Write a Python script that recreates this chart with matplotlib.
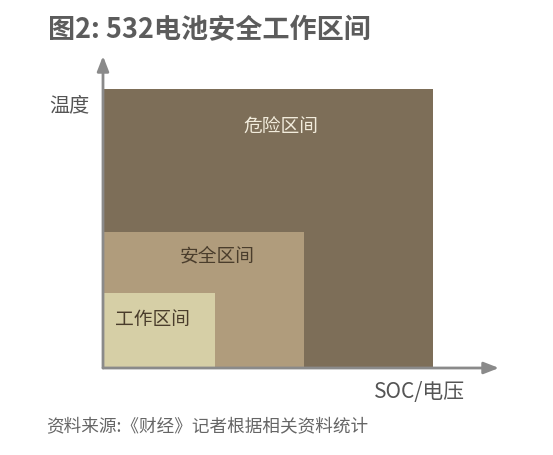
import matplotlib.pyplot as plt
from matplotlib.patches import Rectangle

plt.rcParams['font.family'] = ['Noto Sans CJK SC', 'DejaVu Sans']

# nested zones: (label, width along SOC, height along temperature)
zone_labels = ['危险区间', '安全区间', '工作区间']
zone_soc = [10.0, 6.1, 3.4]
zone_temp = [10.0, 4.9, 2.7]
zone_colors = ['#7d6e58', '#b09c7c', '#d6cfa6']
label_colors = ['#f2ecdc', '#4a3d2c', '#4a3d2c']
label_x = [5.38, 3.47, 1.51]
label_y = [8.67, 4.05, 1.79]

title = '图2: 532电池安全工作区间'
x_label = 'SOC/电压'
y_label = '温度'
source = '资料来源:《财经》记者根据相关资料统计'

W, H = 553, 456
fig = plt.figure(figsize=(W / 100, H / 100), dpi=100)
fig.patch.set_facecolor('white')

left, bottom, right, top = 103, 369, 499, 57
ax = fig.add_axes([left / W, (H - bottom) / H, (right - left) / W, (bottom - top) / H])
ax.set_xlim(0, 12.0)
ax.set_ylim(0, 11.2)
ax.axis('off')

for lab, w, h, c in zip(zone_labels, zone_soc, zone_temp, zone_colors):
    ax.add_patch(Rectangle((0, 0), w, h, facecolor=c, edgecolor='none'))

for lab, x, y, c in zip(zone_labels, label_x, label_y, label_colors):
    ax.text(x, y, lab, color=c, fontsize=13.5, ha='center', va='center')

# axis arrows
arrow = dict(arrowstyle='-|>,head_length=0.9,head_width=0.35', color='#8a8a8a', lw=2,
             shrinkA=0, shrinkB=0)
ax.annotate('', xy=(1, 0), xytext=(0, 0), xycoords='axes fraction', arrowprops=arrow,
            annotation_clip=False)
ax.annotate('', xy=(0, 1), xytext=(0, 0), xycoords='axes fraction', arrowprops=arrow,
            annotation_clip=False)

fig.text(48 / W, 1 - 30 / H, title, fontsize=19.5, fontweight='bold', color='#5c5c5c',
         ha='left', va='center')
fig.text(69 / W, 1 - 106 / H, y_label, fontsize=14.5, color='#555555', ha='center', va='center')
fig.text(420 / W, 1 - 392 / H, x_label, fontsize=15, color='#555555', ha='center', va='center')
fig.text(46 / W, 1 - 426 / H, source, fontsize=12.7, color='#666666', ha='left', va='center')

fig.savefig('out.png', dpi=100, facecolor='white')
